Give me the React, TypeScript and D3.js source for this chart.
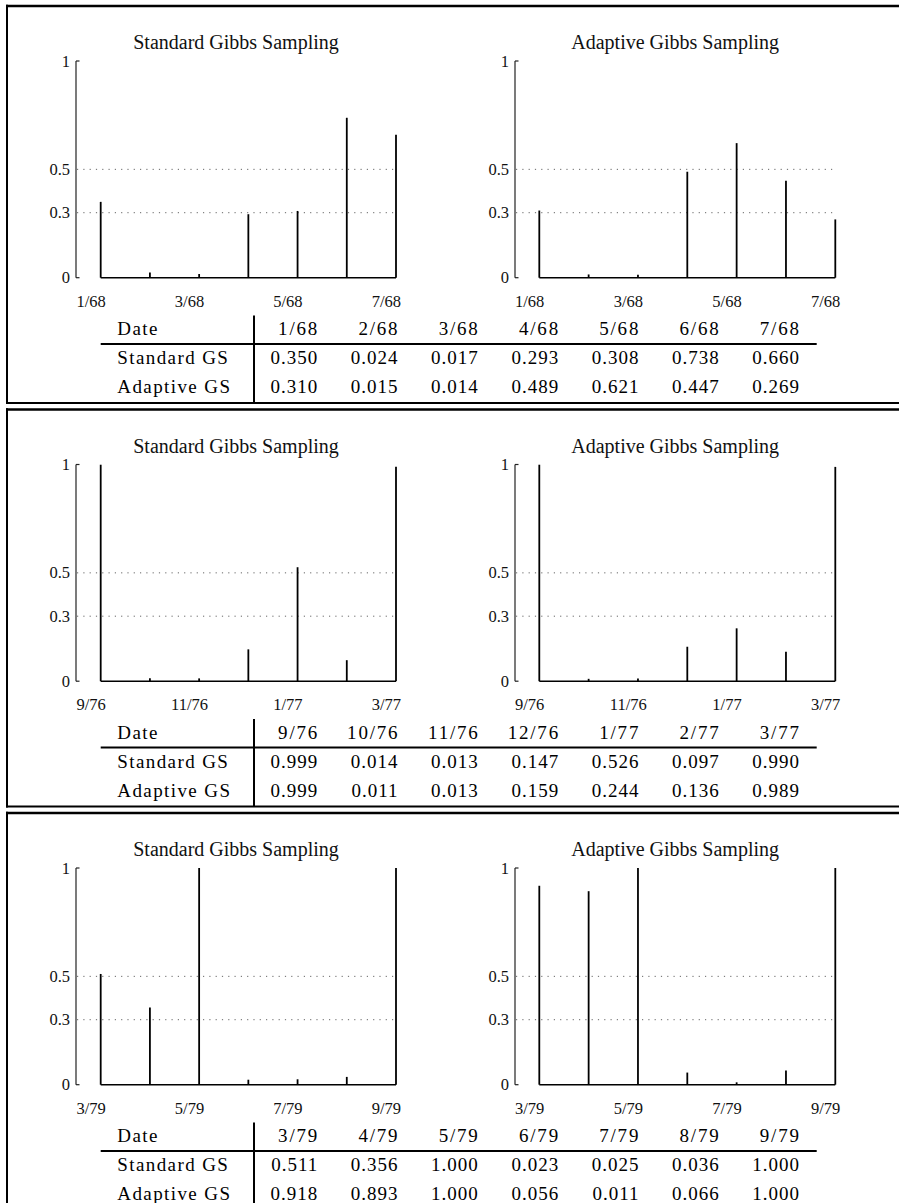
import React from 'react';
import * as d3 from 'd3';

// ---- data ----
const dates1 = ['1/68', '2/68', '3/68', '4/68', '5/68', '6/68', '7/68'];
const standard1 = [0.350, 0.024, 0.017, 0.293, 0.308, 0.738, 0.660];
const adaptive1 = [0.310, 0.015, 0.014, 0.489, 0.621, 0.447, 0.269];

const dates2 = ['9/76', '10/76', '11/76', '12/76', '1/77', '2/77', '3/77'];
const standard2 = [0.999, 0.014, 0.013, 0.147, 0.526, 0.097, 0.990];
const adaptive2 = [0.999, 0.011, 0.013, 0.159, 0.244, 0.136, 0.989];

const dates3 = ['3/79', '4/79', '5/79', '6/79', '7/79', '8/79', '9/79'];
const standard3 = [0.511, 0.356, 1.000, 0.023, 0.025, 0.036, 1.000];
const adaptive3 = [0.918, 0.893, 1.000, 0.056, 0.011, 0.066, 1.000];

const chartTitles = ['Standard Gibbs Sampling', 'Adaptive Gibbs Sampling'];
const rowLabels = ['Date', 'Standard GS', 'Adaptive GS'];
const yTicks = [0, 0.3, 0.5, 1];
const gridValues = [0.3, 0.5];

const panels = [
  { dates: dates1, standard: standard1, adaptive: adaptive1 },
  { dates: dates2, standard: standard2, adaptive: adaptive2 },
  { dates: dates3, standard: standard3, adaptive: adaptive3 },
];

// ---- layout ----
const W = 899;
const H = 1203;
const PANEL_H = 403.5;
const SERIF = '"Liberation Serif", "Times New Roman", serif';
const fmt = d3.format('.3f');

type ChartProps = {
  dates: string[];
  values: number[];
  title: string;
  axisX: number;
  x0: number;
  x1: number;
  oy: number;
};

function StemChart({ dates, values, title, axisX, x0, x1, oy }: ChartProps) {
  const x = d3.scalePoint<string>().domain(dates).range([x0, x1]);
  const y = d3.scaleLinear().domain([0, 1]).range([oy + 277.7, oy + 61]);
  const tickDates = dates.filter((_, i) => i % 2 === 0);
  return (
    <g>
      <text
        x={(axisX + x1) / 2}
        y={oy + 49.3}
        textAnchor="middle"
        fontFamily={SERIF}
        fontSize={20}
        fill="#111"
      >
        {title}
      </text>
      {gridValues.map((g) => (
        <line
          key={'g' + g}
          x1={axisX + 1}
          x2={x1}
          y1={y(g)}
          y2={y(g)}
          stroke="#666"
          strokeWidth={1}
          strokeDasharray="1.2 5.1"
        />
      ))}
      <line x1={axisX} x2={axisX} y1={y(1)} y2={y(0)} stroke="#222" strokeWidth={1.2} />
      {[0, 1].map((t) => (
        <line key={'t' + t} x1={axisX} x2={axisX + 3.5} y1={y(t)} y2={y(t)} stroke="#222" strokeWidth={1.2} />
      ))}
      {yTicks.map((t) => (
        <text
          key={'yl' + t}
          x={axisX - 6}
          y={y(t)}
          textAnchor="end"
          dominantBaseline="central"
          fontFamily={SERIF}
          fontSize={16.5}
          fill="#111"
        >
          {String(t)}
        </text>
      ))}
      <line x1={x0} x2={x1} y1={y(0)} y2={y(0)} stroke="#000" strokeWidth={1.5} />
      {dates.map((d, i) => (
        <line
          key={'s' + d}
          x1={x(d)}
          x2={x(d)}
          y1={y(0)}
          y2={y(values[i])}
          stroke="#000"
          strokeWidth={1.8}
        />
      ))}
      {tickDates.map((d) => (
        <text
          key={'xl' + d}
          x={(x(d) as number) - 9.6}
          y={oy + 306.5}
          textAnchor="middle"
          fontFamily={SERIF}
          fontSize={16.5}
          fill="#111"
        >
          {d}
        </text>
      ))}
    </g>
  );
}

type TableProps = { dates: string[]; standard: number[]; adaptive: number[]; oy: number };

function DataTable({ dates, standard, adaptive, oy }: TableProps) {
  const col = d3.scalePoint<string>().domain(dates).range([317.3, 799]);
  const rowY = [oy + 335, oy + 364, oy + 393];
  const rows = [dates, standard.map(fmt), adaptive.map(fmt)];
  return (
    <g fontFamily={SERIF} fontSize={19} fill="#000">
      {rowLabels.map((lab, r) => (
        <text key={'rl' + r} x={117.3} y={rowY[r]} letterSpacing={1.4}>
          {lab}
        </text>
      ))}
      {rows.map((row, r) =>
        row.map((v, i) => (
          <text
            key={'c' + r + '-' + i}
            x={(col(dates[i]) as number) + (r === 0 ? 1.8 : 1)}
            y={rowY[r]}
            textAnchor="end"
            letterSpacing={r === 0 ? 1.8 : 1}
          >
            {v}
          </text>
        ))
      )}
      <line x1={100.7} x2={816.7} y1={oy + 344} y2={oy + 344} stroke="#000" strokeWidth={2} />
      <line x1={254} x2={254} y1={oy + 315.5} y2={oy + 403} stroke="#000" strokeWidth={2} />
    </g>
  );
}

export default function App() {
  return (
    <svg
      width={W}
      height={H}
      viewBox={`0 0 ${W} ${H}`}
      style={{ position: 'absolute', left: 0, top: 0, background: '#fff' }}
    >
      <rect x={0} y={0} width={W} height={H} fill="#fff" />
      {panels.map((p, k) => {
        const oy = k * PANEL_H;
        return (
          <g key={'p' + k}>
            <line x1={6} x2={W} y1={oy + 6} y2={oy + 6} stroke="#000" strokeWidth={2.7} />
            <line x1={7} x2={7} y1={oy + 4.7} y2={oy + 404} stroke="#000" strokeWidth={2} />
            <line x1={6} x2={W} y1={oy + 403} y2={oy + 403} stroke="#000" strokeWidth={2} />
            <StemChart
              dates={p.dates}
              values={p.standard}
              title={chartTitles[0]}
              axisX={76}
              x0={100.7}
              x1={396}
              oy={oy}
            />
            <StemChart
              dates={p.dates}
              values={p.adaptive}
              title={chartTitles[1]}
              axisX={515}
              x0={539.3}
              x1={835.3}
              oy={oy}
            />
            <DataTable dates={p.dates} standard={p.standard} adaptive={p.adaptive} oy={oy} />
          </g>
        );
      })}
    </svg>
  );
}
